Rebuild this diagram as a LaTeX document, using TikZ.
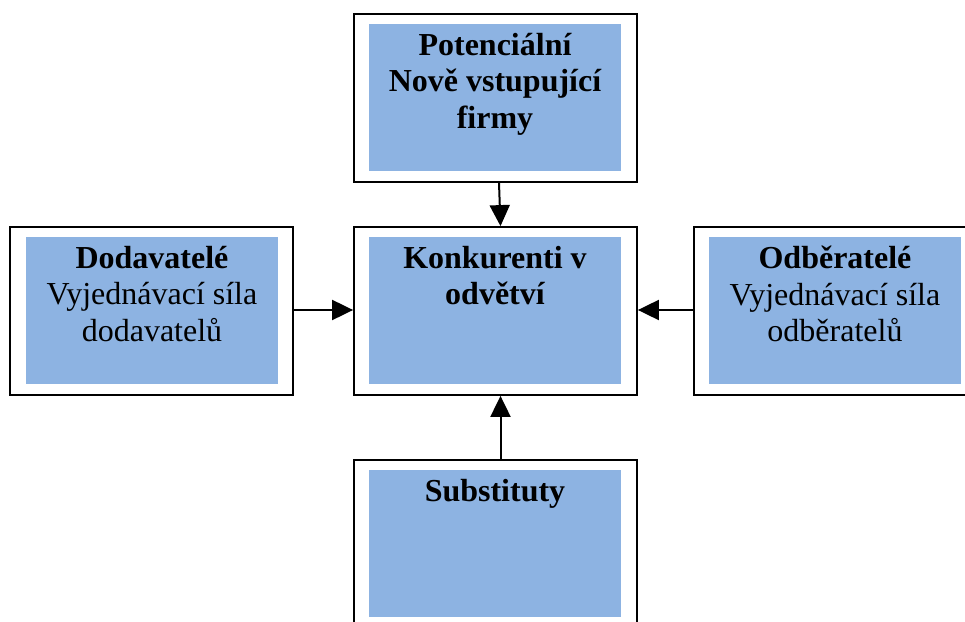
\documentclass[tikz,border=0pt]{standalone}
\usepackage{fontspec}
\setmainfont{Liberation Serif}
\usetikzlibrary{arrows.meta,positioning}
\definecolor{boxblue}{RGB}{141,179,226}

\begin{document}
\begin{tikzpicture}[x=1bp,y=-1bp,>={Triangle[length=21bp,width=20bp]},line join=miter,
  outerbox/.style={draw,line width=1.8bp,fill=white,minimum width=283bp,minimum height=168bp,inner sep=0pt},
  innerbox/.style={fill=boxblue,minimum width=252bp,minimum height=147bp,inner sep=0pt},
  boxtext/.style={inner sep=0pt,align=center,font=\fontsize{32bp}{36.5bp}\selectfont},
  link/.style={->,line width=2bp}]
  \clip (0,0) rectangle (965,622);
%%
  % Node: potencialni
  \node[outerbox] (pot) at (495.5,98) {};
  \node[innerbox] (pot-in) at (495,97.5) {};
  \node[boxtext,below=9bp of pot-in.north] (pot-txt) {\bfseries Potenciální\\\bfseries Nově vstupující\\\bfseries firmy};
  % Node: konkurenti
  \node[outerbox] (ctr) at (495.5,311) {};
  \node[innerbox] (ctr-in) at (495,310.5) {};
  \node[boxtext,below=9bp of ctr-in.north] (ctr-txt) {\bfseries Konkurenti v\\\bfseries odvětví};
  % Node: dodavatele
  \node[outerbox] (dod) at (151.5,311) {};
  \node[innerbox] (dod-in) at (152,310.5) {};
  \node[boxtext,below=9bp of dod-in.north] (dod-txt) {\bfseries Dodavatelé\\Vyjednávací síla\\dodavatelů};
  % Node: odberatele
  \node[outerbox] (odb) at (835.5,311) {};
  \node[innerbox] (odb-in) at (835,310.5) {};
  \node[boxtext,below=9bp of odb-in.north] (odb-txt) {\bfseries Odběratelé\\Vyjednávací síla\\odběratelů};
  % Node: substituty
  \node[outerbox] (sub) at (495.5,544) {};
  \node[innerbox] (sub-in) at (495,543.5) {};
  \node[boxtext,below=9bp of sub-in.north] (sub-txt) {\bfseries Substituty};
%%
  % Edge: pot -> ctr
  \draw[link] ([xshift=3.5bp]pot.south) -- ([xshift=5bp]ctr.north);
  % Edge: dod -> ctr
  \draw[link] ([yshift=1bp]dod.east) -- ([yshift=1bp]ctr.west);
  % Edge: odb -> ctr
  \draw[link] ([yshift=1bp]odb.west) -- ([yshift=1bp]ctr.east);
  % Edge: sub -> ctr
  \draw[link] ([xshift=5bp]sub.north) -- ([xshift=5bp]ctr.south);
%
\end{tikzpicture}
\end{document}
